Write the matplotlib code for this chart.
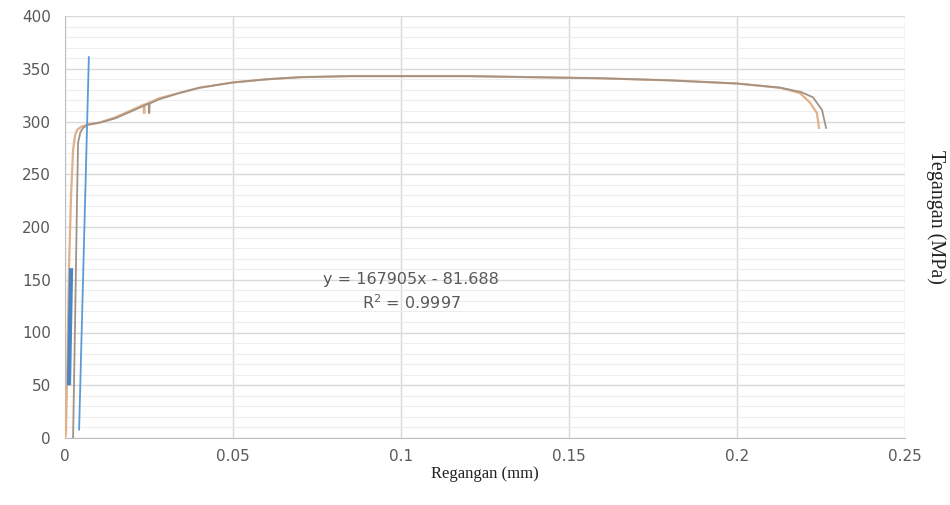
import numpy as np
import matplotlib.pyplot as plt
from matplotlib.ticker import MultipleLocator

# data kurva tegangan-regangan
regangan_1 = [0, 0.0003, 0.0008, 0.0012, 0.0018, 0.0024, 0.003, 0.0036, 0.0048, 0.0068,
              0.0104, 0.015, 0.02, 0.0234, 0.0235, 0.0236, 0.0237, 0.028, 0.034, 0.040,
              0.05, 0.06, 0.07, 0.085, 0.1, 0.12, 0.139, 0.159, 0.18, 0.2, 0.2128,
              0.2187, 0.2217, 0.2238, 0.2244]
tegangan_1 = [0, 5, 90, 162, 230, 273, 287, 292, 295, 297,
              299, 304, 311, 316, 308, 308, 316, 322, 327, 332,
              337, 340, 342, 343, 343, 343, 342, 341, 339, 336, 332,
              327, 318, 308, 294]

regangan_2 = [0.0024, 0.003, 0.0036, 0.0039, 0.0046, 0.0054, 0.0068, 0.0104, 0.015,
              0.02, 0.0249, 0.025, 0.0251, 0.0252, 0.028, 0.034, 0.040, 0.05, 0.06,
              0.07, 0.085, 0.1, 0.12, 0.139, 0.159, 0.18, 0.2, 0.213, 0.219, 0.2226,
              0.2253, 0.2265]
tegangan_2 = [0, 110, 230, 280, 290, 294, 297, 299, 303,
              310, 317, 308, 308, 317, 321, 327, 332, 337, 340,
              342, 343, 343, 343, 342, 341, 339, 336, 332, 328, 323,
              311, 294]

# daerah elastis dan garis trend
regangan_elastis = [0.0012, 0.0018]
tegangan_elastis = [52, 159]
regangan_trend = [0.0042, 0.0071]
tegangan_trend = [8, 361]

xticks = [0, 0.05, 0.1, 0.15, 0.2, 0.25]
xticklabels = ["0", "0.05", "0.1", "0.15", "0.2", "0.25"]

abu = "#595959"

fig = plt.figure(figsize=(9.5, 5.05), dpi=100)
ax = fig.add_axes([65/950, 67/505, 840/950, 422/505])

ax.plot(regangan_1, tegangan_1, color="#E3B088", lw=1.6, zorder=3)
ax.plot(regangan_2, tegangan_2, color="#A39385", lw=1.3, zorder=3)
ax.plot(regangan_elastis, tegangan_elastis, color="#4A86C5", lw=3, zorder=4)
ax.plot(regangan_trend, tegangan_trend, color="#5B9BD5", lw=1.3, zorder=4)

ax.set_xlim(0, 0.25)
ax.set_ylim(0, 400)
ax.set_xticks(xticks)
ax.set_xticklabels(xticklabels)
ax.yaxis.set_major_locator(MultipleLocator(50))
ax.yaxis.set_minor_locator(MultipleLocator(10))

ax.grid(True, which="major", color="#D9D9D9", lw=1)
ax.grid(True, which="minor", axis="y", color="#EDEDED", lw=0.8)
ax.set_axisbelow(True)

for s in ["top", "right"]:
    ax.spines[s].set_visible(False)
ax.spines["left"].set_color("#BFBFBF")
ax.spines["bottom"].set_color("#BFBFBF")

ax.tick_params(which="both", length=0, colors=abu, labelsize=11)
ax.tick_params(axis="x", pad=8)
ax.tick_params(axis="y", pad=10)

ax.set_xlabel("Regangan (mm)", family="Liberation Serif", fontsize=12, color="#222222", labelpad=1)
fig.text(936/950, 1 - 217/505, "Tegangan (MPa)", family="Liberation Serif", fontsize=14.5,
         color="#222222", rotation=-90, ha="center", va="center")

ax.text(0.103, 138, "y = 167905x - 81.688\nR$^2$ = 0.9997", color=abu, fontsize=11.5,
        ha="center", va="center", linespacing=1.4)

plt.savefig("out.png", dpi=100)
